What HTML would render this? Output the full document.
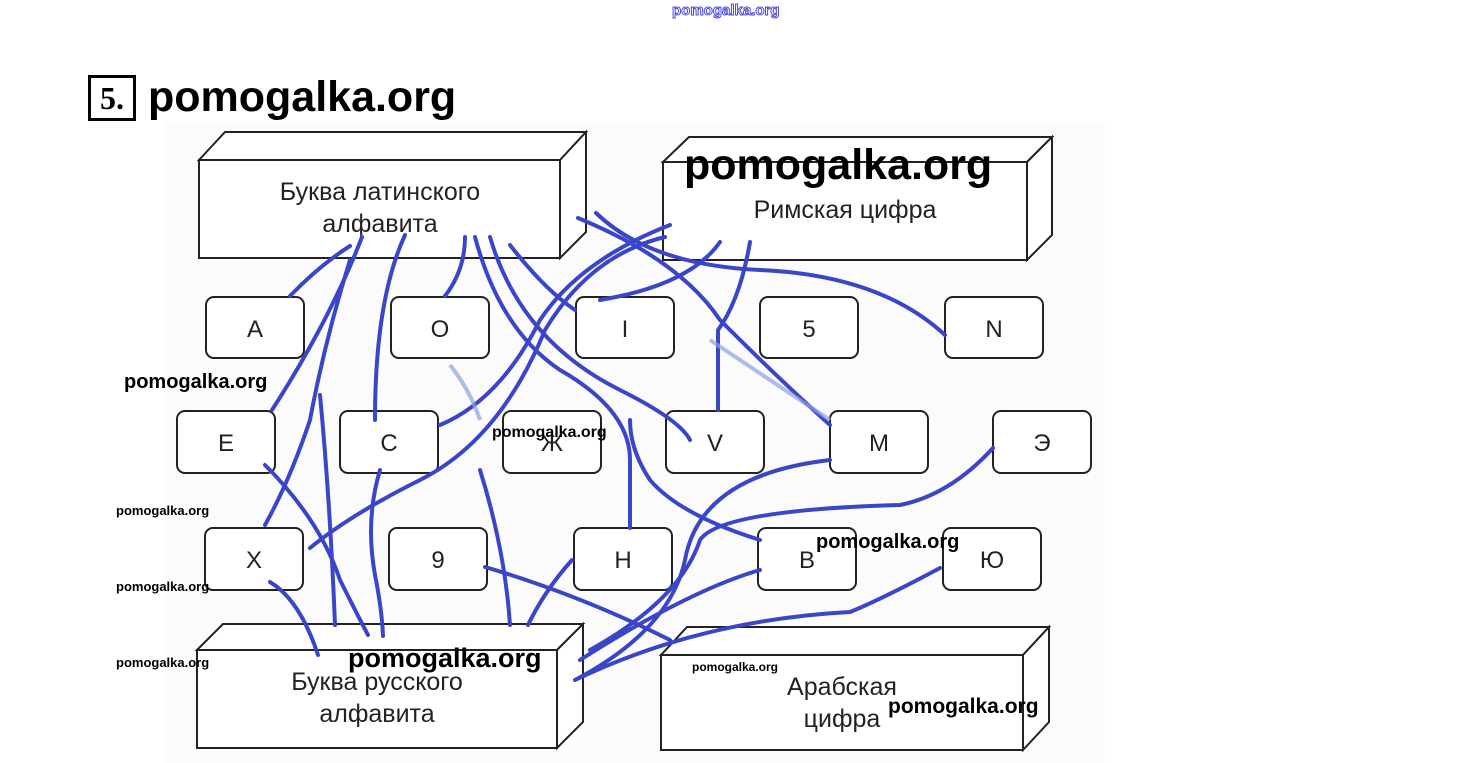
<!DOCTYPE html>
<html><head><meta charset="utf-8"><style>
html,body{margin:0;padding:0;background:#fff;}
body{width:1460px;height:763px;position:relative;overflow:hidden;font-family:"Liberation Sans",sans-serif;}
.wm{position:absolute;font-weight:bold;color:#000;white-space:nowrap;font-family:"Liberation Sans",sans-serif;}
</style></head><body>
<svg width="1460" height="763" style="position:absolute;left:0;top:0">
<rect x="165" y="122" width="940" height="641" fill="#fbfbfb"/>
<g fill="#fff" stroke="#222" stroke-width="2">
<polygon points="199,160 225,132 586,132 560,160"/><polygon points="560,160 586,132 586,232 560,258"/><rect x="199" y="160" width="361" height="98"/>
<polygon points="663,162 689,137 1052,137 1027,162"/><polygon points="1027,162 1052,137 1052,235 1027,260"/><rect x="663" y="162" width="364" height="98"/>
<polygon points="197,650 223,624 583,624 557,650"/><polygon points="557,650 583,624 583,722 557,748"/><rect x="197" y="650" width="360" height="98"/>
<polygon points="661,655 687,627 1049,627 1023,655"/><polygon points="1023,655 1049,627 1049,722 1023,750"/><rect x="661" y="655" width="362" height="95"/>
</g>
<g fill="#fff" stroke="#222" stroke-width="2">
<rect x="206" y="297" width="98" height="61" rx="8"/><rect x="391" y="297" width="98" height="61" rx="8"/><rect x="576" y="297" width="98" height="61" rx="8"/><rect x="760" y="297" width="98" height="61" rx="8"/><rect x="945" y="297" width="98" height="61" rx="8"/>
<rect x="177" y="411" width="98" height="62" rx="8"/><rect x="340" y="411" width="98" height="62" rx="8"/><rect x="503" y="411" width="98" height="62" rx="8"/><rect x="666" y="411" width="98" height="62" rx="8"/><rect x="830" y="411" width="98" height="62" rx="8"/><rect x="993" y="411" width="98" height="62" rx="8"/>
<rect x="205" y="528" width="98" height="62" rx="8"/><rect x="389" y="528" width="98" height="62" rx="8"/><rect x="574" y="528" width="98" height="62" rx="8"/><rect x="758" y="528" width="98" height="62" rx="8"/><rect x="943" y="528" width="98" height="62" rx="8"/>
</g>
<g font-family="Liberation Sans, sans-serif" font-size="25" fill="#222" text-anchor="middle">
<text x="380" y="200">Буква латинского</text><text x="380" y="232">алфавита</text>
<text x="845" y="218">Римская цифра</text>
<text x="377" y="690">Буква русского</text><text x="377" y="722">алфавита</text>
<text x="842" y="695">Арабская</text><text x="842" y="727">цифра</text>
<g font-size="24">
<text x="255" y="337">А</text><text x="440" y="337">О</text><text x="625" y="337">I</text><text x="809" y="337">5</text><text x="994" y="337">N</text>
<text x="226" y="451">Е</text><text x="389" y="451">С</text><text x="552" y="451">Ж</text><text x="715" y="451">V</text><text x="879" y="451">М</text><text x="1042" y="451">Э</text>
<text x="254" y="568">Х</text><text x="438" y="568">9</text><text x="623" y="568">Н</text><text x="807" y="568">В</text><text x="992" y="568">Ю</text>
</g></g>
<g fill="none" stroke="#3a45c8" stroke-width="4" stroke-linecap="round" stroke-linejoin="round">
<path d="M290,296 Q320,265 350,246"/>
<path d="M272,410 Q330,320 362,237"/>
<path d="M375,420 Q375,300 405,235"/>
<path d="M445,296 Q465,270 465,237"/>
<path d="M475,237 Q500,330 560,370 Q630,410 630,460 L630,528"/>
<path d="M490,237 Q520,340 620,390 Q680,420 690,440"/>
<path d="M510,245 Q545,290 575,310"/>
<path d="M578,218 Q680,260 720,320 Q780,380 830,425"/>
<path d="M596,213 Q650,265 760,270 Q880,275 945,335"/>
<path d="M750,242 Q740,300 718,330 L718,410"/>
<path d="M720,242 Q690,285 600,300"/>
<path d="M670,225 Q580,260 540,320 Q500,400 440,425"/>
<path d="M665,237 Q590,255 545,330 Q500,440 420,480 Q350,515 310,548"/>
<path d="M265,465 Q320,520 340,580 Q360,620 368,635"/>
<path d="M270,582 Q300,600 318,655"/>
<path d="M350,260 Q325,340 310,420 Q290,480 265,525"/>
<path d="M320,395 Q330,500 335,625"/>
<path d="M380,470 Q365,520 375,575 Q382,610 383,636"/>
<path d="M480,470 Q505,550 510,625"/>
<path d="M572,560 Q545,590 528,625"/>
<path d="M485,567 Q580,595 670,640"/>
<path d="M760,570 Q690,590 580,660"/>
<path d="M830,460 Q700,475 685,560 Q670,630 575,680"/>
<path d="M993,448 Q950,495 900,505 Q720,510 700,540 Q680,600 590,650"/>
<path d="M940,568 Q880,600 850,612 Q700,620 575,680"/>
<path d="M760,540 Q680,515 650,480 Q630,450 630,420"/>
</g>
<g fill="none" stroke="#8fa0e0" stroke-width="4" opacity="0.7">
<path d="M450,365 Q470,390 480,420"/><path d="M710,340 Q770,380 830,420"/>
</g>
</svg>
<div style="position:absolute;left:88px;top:75px;width:42px;height:40px;border:3px solid #000;font:bold 32px 'Liberation Serif',serif;text-align:center;line-height:40px;">5.</div>
<div class="wm" style="left:672px;top:2px;font-size:15px;color:#fff;-webkit-text-stroke:1px #4a4ae0;">pomogalka.org</div>
<div class="wm" style="left:148px;top:73px;font-size:43px;">pomogalka.org</div>
<div class="wm" style="left:684px;top:141px;font-size:43px;">pomogalka.org</div>
<div class="wm" style="left:124px;top:371px;font-size:20px;">pomogalka.org</div>
<div class="wm" style="left:492px;top:424px;font-size:16px;">pomogalka.org</div>
<div class="wm" style="left:116px;top:503px;font-size:13px;">pomogalka.org</div>
<div class="wm" style="left:116px;top:579px;font-size:13px;">pomogalka.org</div>
<div class="wm" style="left:116px;top:655px;font-size:13px;">pomogalka.org</div>
<div class="wm" style="left:816px;top:531px;font-size:20px;">pomogalka.org</div>
<div class="wm" style="left:348px;top:643px;font-size:27px;">pomogalka.org</div>
<div class="wm" style="left:692px;top:660px;font-size:12px;">pomogalka.org</div>
<div class="wm" style="left:888px;top:695px;font-size:21px;">pomogalka.org</div>
</body></html>
